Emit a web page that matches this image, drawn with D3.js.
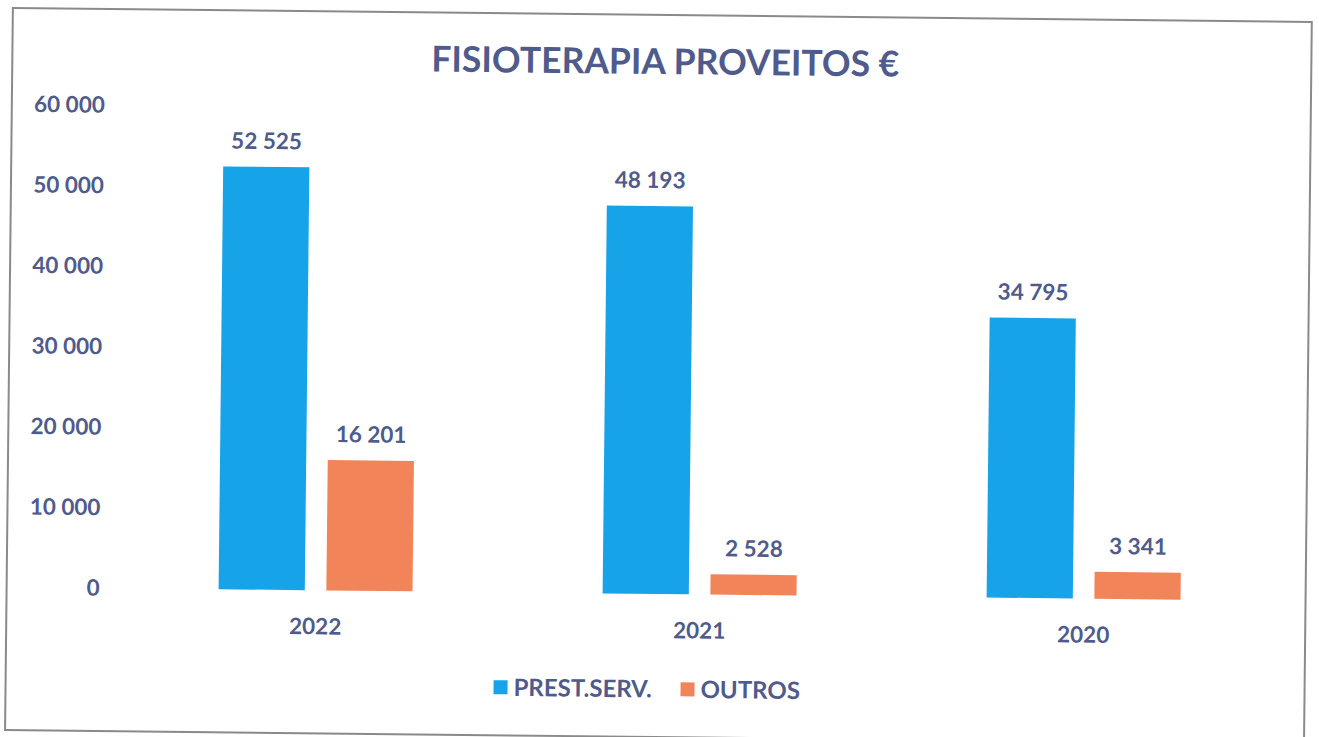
<!DOCTYPE html>
<html>
<head>
<meta charset="utf-8">
<script src="https://cdn.jsdelivr.net/npm/d3@7"></script>
<style>
body { margin:0; background:#fff; }
text { font-family: Lato, "Open Sans", sans-serif; font-weight:bold; fill:#4e5b8c; }
</style>
</head>
<body>
<div id="chart"></div>
<script>
// Data
const years = ["2022", "2021", "2020"];
const seriesNames = ["PREST.SERV.", "OUTROS"];
const prestServ = [52525, 48193, 34795];
const outros = [16201, 2528, 3341];
const yTicks = [0, 10000, 20000, 30000, 40000, 50000, 60000];
const colors = ["#17a3e8", "#f2845a"];

const W = 1319, H = 737;

const svg = d3.select("#chart")
.append("svg")
.attr("width", W)
.attr("height", H);

// the scan is a little tilted
const g = svg.append("g")
.attr("transform", "rotate(0.62, 660, 370)");

// frame
g.append("rect")
.attr("x", 9).attr("y", 15)
.attr("width", 1299).attr("height", 722)
.attr("fill", "none")
.attr("stroke", "#8a8a8a")
.attr("stroke-width", 2);

// scales
const x0 = d3.scaleBand()
.domain(years)
.range([125, 1279])
.paddingInner(0.495)
.paddingOuter(0.25);

const x1 = d3.scaleBand()
.domain(seriesNames)
.range([0, x0.bandwidth()])
.paddingInner(0.2);

const y = d3.scaleLinear()
.domain([0, 60000])
.range([594, 111]);

const fmt = v => d3.format(",")(v).replace(/,/g, " ");

// y axis labels
const yAxis = g.append("g")
.attr("transform", "translate(102,0)")
.call(d3.axisLeft(y).tickValues(yTicks).tickSize(0).tickPadding(0).tickFormat(fmt));
yAxis.select(".domain").remove();
yAxis.selectAll("text")
.attr("font-size", 22.5)
.attr("font-family", null)
.attr("fill", null);

// x axis labels
const xAxis = g.append("g")
.attr("transform", "translate(0,594)")
.call(d3.axisBottom(x0).tickSize(0).tickPadding(28));
xAxis.select(".domain").remove();
xAxis.selectAll("text")
.attr("font-size", 22.5)
.attr("font-family", null)
.attr("fill", null);

// bars
const rows = years.map((yr, i) => ({year: yr, vals: [prestServ[i], outros[i]]}));

const groups = g.selectAll(".grp")
.data(rows)
.enter()
.append("g")
.attr("class", "grp")
.attr("transform", d => `translate(${x0(d.year)},0)`);

const cells = groups.selectAll(".cell")
.data(d => d.vals.map((v, j) => ({name: seriesNames[j], value: v, j: j})))
.enter();

cells.append("rect")
.attr("x", d => x1(d.name))
.attr("y", d => y(d.value))
.attr("width", x1.bandwidth())
.attr("height", d => y(0) - y(d.value))
.attr("fill", d => colors[d.j]);

cells.append("text")
.attr("x", d => x1(d.name) + x1.bandwidth() / 2)
.attr("y", d => y(d.value) - 18)
.attr("text-anchor", "middle")
.attr("font-size", 22.5)
.text(d => fmt(d.value));

// title
g.append("text")
.attr("x", 662)
.attr("y", 74)
.attr("text-anchor", "middle")
.attr("font-size", 35.5)
.text("FISIOTERAPIA PROVEITOS €");

// legend
const legend = g.append("g").attr("transform", "translate(497,689)");
const legX = [0, 187];
seriesNames.forEach((s, i) => {
  legend.append("rect")
  .attr("x", legX[i]).attr("y", -7)
  .attr("width", 14).attr("height", 14)
  .attr("fill", colors[i]);
  legend.append("text")
  .attr("x", legX[i] + 20)
  .attr("y", 8.5)
  .attr("font-size", 24)
  .text(s);
});
</script>
</body>
</html>
